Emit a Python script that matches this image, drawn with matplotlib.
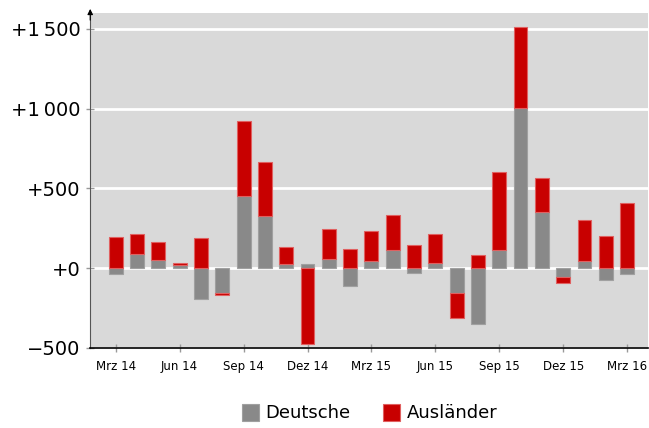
import numpy as np
import matplotlib.pyplot as plt

# monthly values, Mrz 14 .. Mrz 16
months = [
    "Mrz 14", "Apr 14", "Mai 14", "Jun 14", "Jul 14", "Aug 14", "Sep 14",
    "Okt 14", "Nov 14", "Dez 14", "Jan 15", "Feb 15", "Mrz 15", "Apr 15",
    "Mai 15", "Jun 15", "Jul 15", "Aug 15", "Sep 15", "Okt 15", "Nov 15",
    "Dez 15", "Jan 16", "Feb 16", "Mrz 16",
]
deutsche = [-38, 86, 50, 23, -192, -155, 454, 324, 29, 25, 56, -113, 44,
            111, -31, 33, -155, -349, 111, 1005, 355, -56, 46, -75, -38]
auslaender = [195, 128, 111, 8, 192, -15, 470, 339, 102, -474, 190, 121, 190,
              224, 148, 180, -155, 84, 493, 506, 211, -38, 257, 199, 410]

y_ticks = [-500, 0, 500, 1000, 1500]
y_labels = ["\u2212500", "+0", "+500", "+1\u2009000", "+1\u2009500"]

GRAY = "#898989"
RED = "#c80000"

deutsche = np.array(deutsche)
auslaender = np.array(auslaender)
x = np.arange(len(months))

# red sits on top of gray when both have the same sign, otherwise starts at 0
same_sign = np.sign(deutsche) == np.sign(auslaender)
red_bottom = np.where(same_sign, deutsche, 0)

fig = plt.figure(figsize=(6.49, 4.28), dpi=100)
ax = fig.add_axes([0.139, 0.187, 0.860, 0.783])
ax.set_facecolor("#d9d9d9")

ax.bar(x, deutsche, width=0.65, color=GRAY, edgecolor="#a0a0a0",
       linewidth=0.8, label="Deutsche", zorder=3)
ax.bar(x, auslaender, width=0.65, bottom=red_bottom, color=RED,
       edgecolor="#e06060", linewidth=0.8, label="Ausländer", zorder=3)

ax.set_xlim(-1.2, len(months))
ax.set_ylim(-500, 1600)

ax.set_yticks(y_ticks)
ax.set_yticklabels(y_labels, fontsize=14)
ax.set_xticks(x[::3])
ax.set_xticklabels(months[::3], fontsize=8.5)
ax.tick_params(axis="both", direction="inout", length=6, color="#999999", width=1)
ax.tick_params(axis="x", pad=6)
ax.tick_params(axis="y", pad=4)

ax.grid(axis="y", color="white", linewidth=2, zorder=1)
ax.set_axisbelow(True)

for side in ["top", "right"]:
    ax.spines[side].set_visible(False)
ax.spines["left"].set_color("#555555")
ax.spines["bottom"].set_linewidth(1.2)

# arrow at top of y axis
ax.annotate("", xy=(0, 1.02), xytext=(0, 0.97), xycoords="axes fraction",
            arrowprops=dict(arrowstyle="-|>", color="black", lw=0.8,
                            mutation_scale=8))

fig.legend(loc="center", bbox_to_anchor=(0.57, 0.035), ncol=2, frameon=False,
           fontsize=13, handlelength=0.9, handleheight=1.1, handletextpad=0.4,
           columnspacing=1.8)

fig.savefig("out.png", dpi=100)
plt.close(fig)
